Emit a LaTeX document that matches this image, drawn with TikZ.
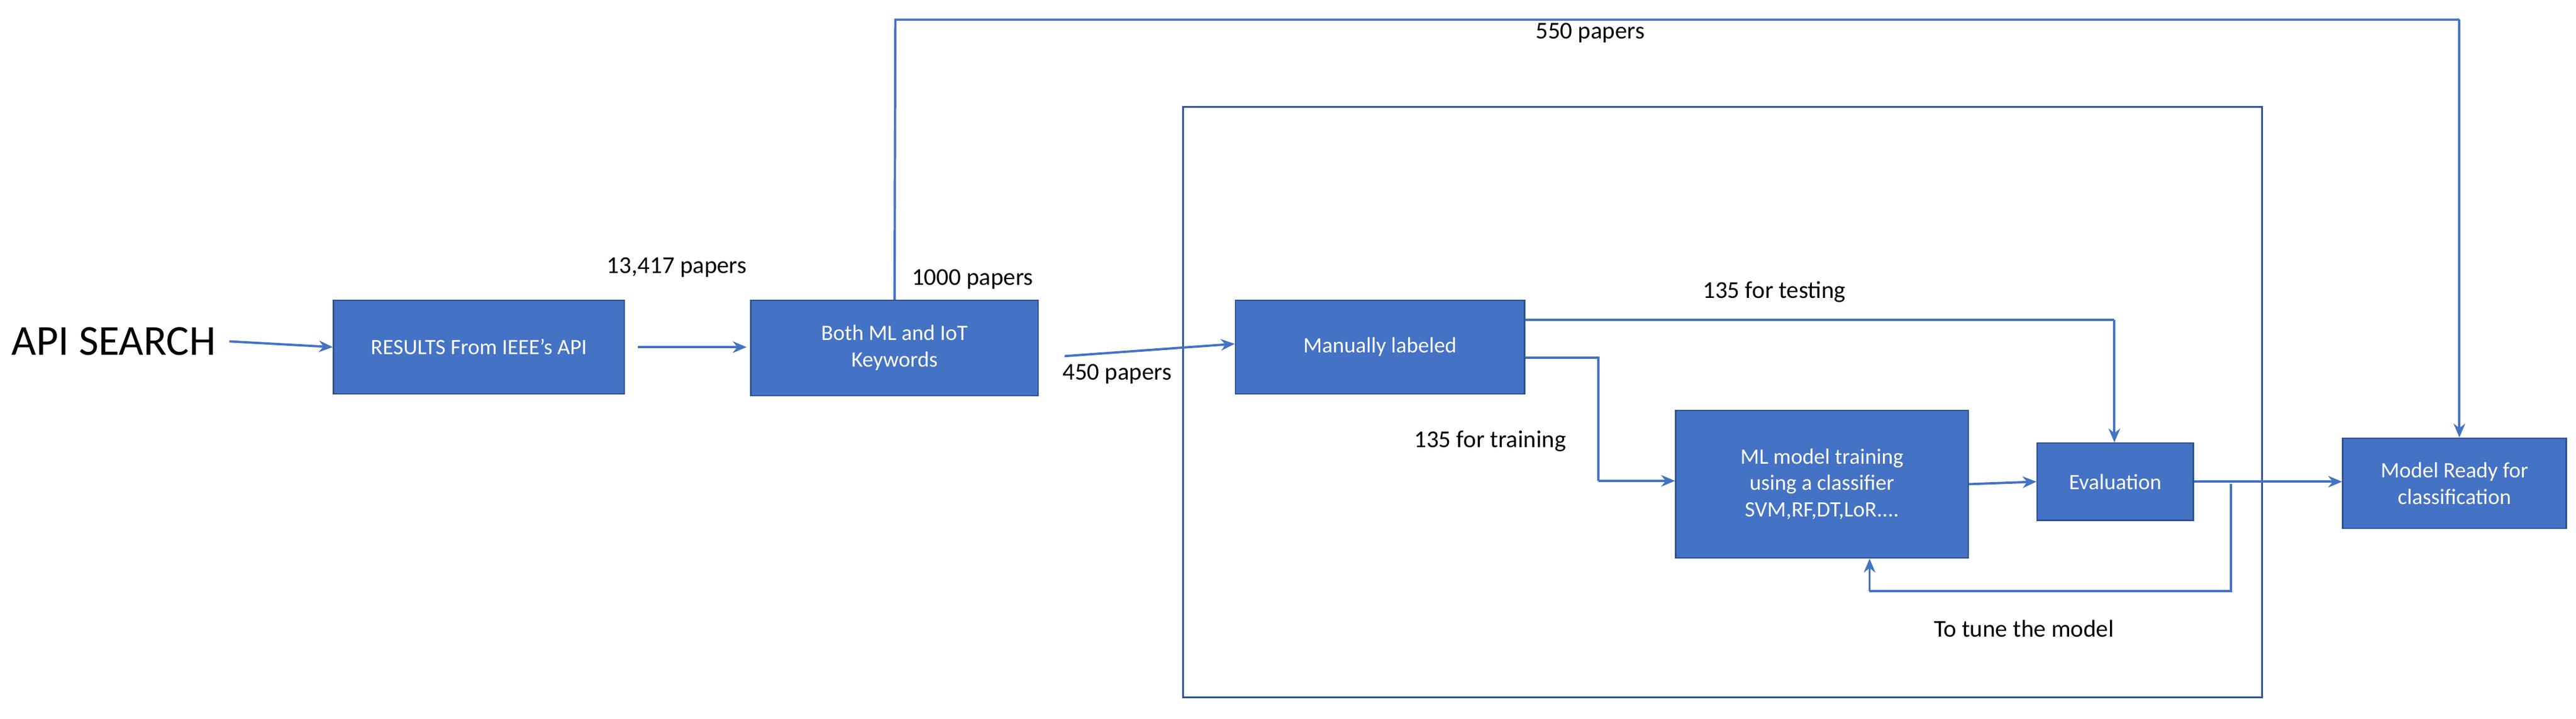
\documentclass[tikz,border=0pt]{standalone}
\usepackage{fontspec}
\setmainfont{Carlito}
\usetikzlibrary{arrows.meta}
\definecolor{bfill}{HTML}{4472C4}
\definecolor{bdraw}{HTML}{2F528F}
\begin{document}
\begin{tikzpicture}[x=0.05cm,y=-0.05cm,
  box/.style={draw=bdraw,line width=1.2pt,fill=bfill,text=white,font=\fontsize{19}{23}\selectfont,align=center,inner sep=0pt},
  lbl/.style={font=\fontsize{21}{25}\selectfont,inner sep=0pt},
  con/.style={draw=bfill,line width=2pt,-{Stealth[length=12pt,width=10pt]}},
  ln/.style={draw=bfill,line width=2pt}]
\useasboundingbox (0,0) rectangle (1568,438);
\node[lbl,font=\fontsize{37}{40}\selectfont,anchor=west] (api) at (7,208) {API SEARCH};
\node[box,minimum width=8.85cm,minimum height=2.85cm] (res) at (291.5,211.5) {RESULTS From IEEE’s API};
\node[box,minimum width=8.75cm,minimum height=2.9cm] (kw) at (544.5,212) {Both ML and IoT\\Keywords};
\node[box,minimum width=8.8cm,minimum height=2.85cm] (man) at (840,211.5) {Manually labeled};
\node[box,minimum width=8.9cm,minimum height=4.5cm] (ml) at (1109,295) {ML model training\\using a classifier\\SVM,RF,DT,LoR....};
\node[box,minimum width=4.75cm,minimum height=2.35cm] (ev) at (1287.5,293.5) {Evaluation};
\node[box,minimum width=6.8cm,minimum height=2.75cm] (mr) at (1494,294.5) {Model Ready for\\classification};
\node[draw=bdraw,line width=1.5pt,minimum width=32.85cm,minimum height=18cm,inner sep=0pt] (frame) at (1048.5,245) {};
\coordinate (top1) at (545,12);
\coordinate (top2) at (1497,12);
\coordinate (tr1) at (1287,195);
\coordinate (tn1) at (973,218);
\coordinate (tn2) at (973,293);
\coordinate (fb1) at (1358,295);
\coordinate (fb2) at (1358,360);
\coordinate (fb3) at (1138,360);
\coordinate (k1) at (648,217);
\draw[con] (api.east)++(8,0) -- (res.west);
\draw[con] ([xshift=8*0.05cm]res.east) -- ([xshift=-3]kw.west|-res.east);
\draw[ln] (kw.north) -- (top1) -- (top2);
\draw[con] (top2) -- (mr.north-|top2);
\draw[con] (k1) -- ([yshift=0.1cm]man.west);
\draw[ln] (man.east|-tr1) -- (tr1);
\draw[con] (tr1) -- (ev.north-|tr1);
\draw[ln] (man.east|-tn1) -- (tn1) -- (tn2);
\draw[con] (tn2) -- (ml.west|-tn2);
\draw[con] (ml.east) -- (ev.west);
\draw[con] (ev.east) -- (mr.west|-ev.east);
\draw[ln] (fb1) -- (fb2) -- (fb3);
\draw[con] (fb3) -- (ml.south-|fb3);
\node[lbl] (l1) at (412,163) {13,417 papers};
\node[lbl] (l2) at (592,170) {1000 papers};
\node[lbl] (l3) at (968,20) {550 papers};
\node[lbl] (l4) at (680,228) {450 papers};
\node[lbl] (l5) at (1080,178) {135 for testing};
\node[lbl] (l6) at (907,269) {135 for training};
\node[lbl] (l7) at (1232,383) {To tune the model};
\end{tikzpicture}
\end{document}
